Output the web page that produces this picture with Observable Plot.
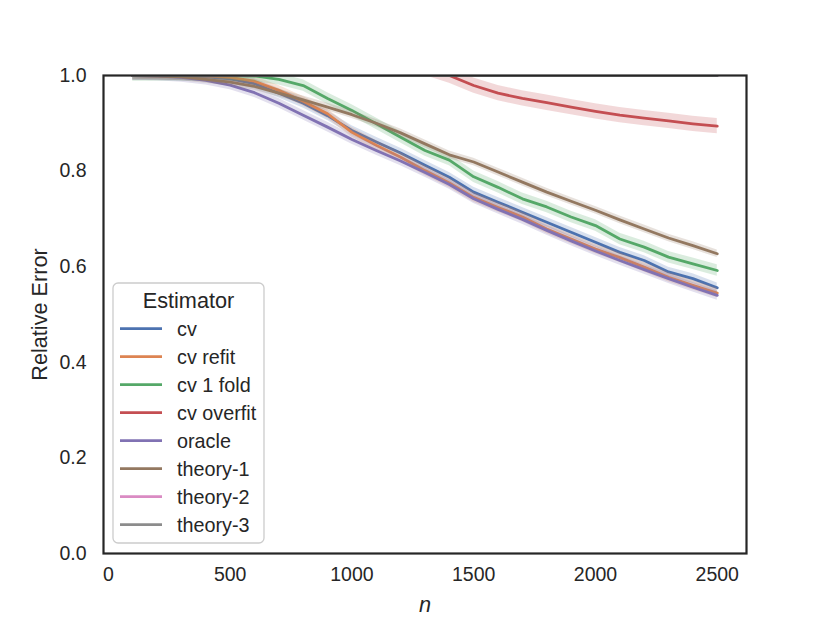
<!DOCTYPE html>
<html>
<head>
<meta charset="utf-8">
<script src="https://cdn.jsdelivr.net/npm/d3@7"></script>
<script src="https://cdn.jsdelivr.net/npm/@observablehq/plot@0.6"></script>
<style>
  html, body { margin: 0; padding: 0; background: #ffffff; }
  #chart { width: 830px; height: 623px; }
</style>
</head>
<body>
<div id="chart"></div>
<script>
const n = [100,200,300,400,500,600,700,800,900,1000,1100,1200,1300,1400,1500,1600,1700,1800,1900,2000,2100,2200,2300,2400,2500];

const cv       = [1.000,1.000,0.999,0.997,0.993,0.983,0.963,0.942,0.916,0.885,0.861,0.838,0.812,0.787,0.756,0.735,0.714,0.693,0.672,0.651,0.630,0.613,0.589,0.575,0.556];
const cvRefit  = [1.000,1.000,1.000,0.999,0.996,0.988,0.969,0.946,0.920,0.881,0.854,0.829,0.801,0.775,0.745,0.724,0.704,0.679,0.658,0.637,0.619,0.599,0.578,0.561,0.545];
const cv1Fold  = [1.000,1.000,1.000,1.000,1.000,0.999,0.992,0.979,0.952,0.927,0.899,0.871,0.843,0.823,0.788,0.766,0.742,0.725,0.704,0.686,0.658,0.641,0.620,0.606,0.592];
const cvOverfit= [null,null,null,null,null,null,null,null,null,null,null,1.040,1.016,1.000,0.979,0.963,0.952,0.943,0.934,0.925,0.917,0.911,0.905,0.899,0.894];
const oracle   = [1.000,0.999,0.996,0.990,0.980,0.964,0.942,0.917,0.892,0.866,0.843,0.821,0.797,0.772,0.742,0.720,0.699,0.676,0.654,0.633,0.613,0.594,0.575,0.557,0.540];
const theory1  = [1.000,0.999,0.997,0.992,0.986,0.977,0.963,0.949,0.934,0.918,0.900,0.880,0.857,0.834,0.819,0.798,0.777,0.756,0.737,0.718,0.698,0.679,0.660,0.644,0.627];
const theory2  = [1.000,1.000,1.000,1.000,1.000,1.000,1.000,1.000,1.000,1.000,1.000,1.000,1.000,1.000,1.000,1.000,1.000,1.000,1.000,1.000,1.000,1.000,1.000,1.000,1.000];
const theory3  = [1.000,1.000,1.000,1.000,1.000,1.000,1.000,1.000,1.000,1.000,1.000,1.000,1.000,1.000,1.000,1.000,1.000,1.000,1.000,1.000,1.000,1.000,1.000,1.000,1.000];

// confidence-band half widths
const ciHalf = [0.010, 0.010, 0.012, 0.016, 0.010, 0.008, 0.0, 0.0];

const estimators = ["cv","cv refit","cv 1 fold","cv overfit","oracle","theory-1","theory-2","theory-3"];
const colors = ["#4c72b0","#dd8452","#55a868","#c44e52","#8172b3","#937860","#da8bc3","#8c8c8c"];
const xTicks = [0,500,1000,1500,2000,2500];
const yTicks = [0.0,0.2,0.4,0.6,0.8,1.0];

const seriesValues = [cv, cvRefit, cv1Fold, cvOverfit, oracle, theory1, theory2, theory3];

const FONT = "'Liberation Sans', Arial, Helvetica, sans-serif";
const INK = "#262626";

const marks = [];
estimators.forEach((name, i) => {
  const rows = n.map((v, j) => ({n: v, y: seriesValues[i][j], lo: seriesValues[i][j] - ciHalf[i], hi: seriesValues[i][j] + ciHalf[i]}))
                .filter(d => d.y != null);
  if (ciHalf[i] > 0) {
    marks.push(Plot.areaY(rows, {x: "n", y1: "lo", y2: "hi", fill: colors[i], fillOpacity: 0.22, clip: true}));
  }
  marks.push(Plot.lineY(rows, {x: "n", y: "y", stroke: colors[i], strokeWidth: 2.8, clip: true}));
});

const chart = Plot.plot({
  width: 830,
  height: 623,
  marginLeft: 103,
  marginRight: 84,
  marginTop: 75,
  marginBottom: 70,
  style: {fontFamily: FONT, fontSize: "19.5px", color: INK, background: "#ffffff", overflow: "visible"},
  x: {domain: [-20, 2620]},
  y: {domain: [0, 1]},
  marks: [
    ...marks,
    Plot.frame({stroke: INK, strokeWidth: 2.2}),
    Plot.axisX(xTicks, {tickSize: 0, tickPadding: 14, label: null, fill: INK, fontSize: 19.5, tickFormat: d => String(d)}),
    Plot.axisY(yTicks, {tickSize: 0, tickPadding: 17, label: null, fill: INK, fontSize: 19.5, tickFormat: d3.format(".1f")}),
    Plot.text(["n"], {frameAnchor: "bottom", dy: 52, lineAnchor: "middle", fontStyle: "italic", fontSize: 21.7, fill: INK}),
    Plot.text(["Relative Error"], {frameAnchor: "left", dx: -63, rotate: -90, lineAnchor: "middle", textAnchor: "middle", fontSize: 21.7, fill: INK})
  ]
});

document.getElementById("chart").appendChild(chart);

// legend inside the axes (lower left), drawn into the same SVG
const svg = d3.select(chart);
const lg = svg.append("g").attr("font-family", FONT).attr("fill", INK);
lg.append("rect")
  .attr("x", 113).attr("y", 283).attr("width", 151).attr("height", 260)
  .attr("rx", 5).attr("ry", 5)
  .attr("fill", "#ffffff").attr("fill-opacity", 0.8)
  .attr("stroke", "#cccccc").attr("stroke-width", 1.3);
lg.append("text")
  .attr("x", 188.5).attr("y", 300.5)
  .attr("text-anchor", "middle").attr("dominant-baseline", "central")
  .attr("font-size", 21.7).text("Estimator");
estimators.forEach((name, i) => {
  const yy = 328.7 + i * 28.0;
  lg.append("line").attr("x1", 120).attr("x2", 162).attr("y1", yy).attr("y2", yy)
    .attr("stroke", colors[i]).attr("stroke-width", 2.8);
  lg.append("text").attr("x", 177).attr("y", yy)
    .attr("text-anchor", "start")
    .attr("dominant-baseline", "central").attr("font-size", 19.8).text(name);
});
</script>
</body>
</html>
